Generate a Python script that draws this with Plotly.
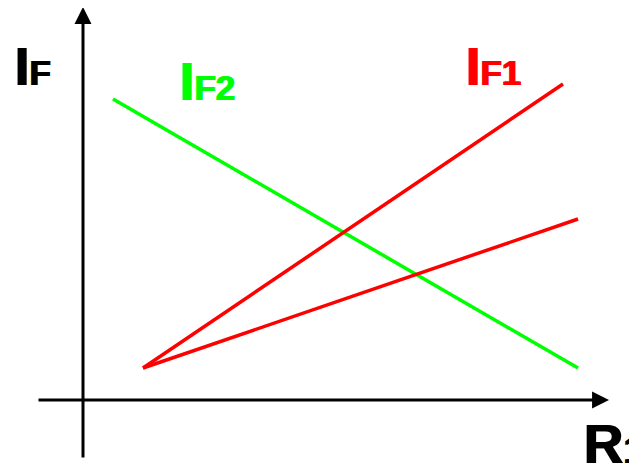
import plotly.graph_objects as go

# schematic: origin of the drawn axes is (0, 0)
green_x = [30, 495]
green_y = [301, 32]

red1_x = [60, 480]
red1_y = [32, 316]

red2_x = [60, 495]
red2_y = [32, 181]

GREEN = "#00ff00"
RED = "#ff0000"
FONT = "Liberation Sans, Arial, sans-serif"

fig = go.Figure()
fig.add_trace(go.Scatter(x=green_x, y=green_y, mode="lines", line=dict(color=GREEN, width=3.5)))
fig.add_trace(go.Scatter(x=red1_x, y=red1_y, mode="lines", line=dict(color=RED, width=3.5)))
fig.add_trace(go.Scatter(x=red2_x, y=red2_y, mode="lines", line=dict(color=RED, width=3.5)))

# axis arrows
arrows = [
    dict(x=0, y=393, ax=0, ay=-59),
    dict(x=526, y=0, ax=-46, ay=0),
]
for a in arrows:
    fig.add_annotation(
        x=a["x"], y=a["y"], ax=a["ax"], ay=a["ay"],
        xref="x", yref="y", axref="x", ayref="y",
        text="", showarrow=True, arrowhead=2, arrowsize=1.13,
        arrowwidth=3, arrowcolor="black",
    )

def label(main, sub, x, y, color, size=53, subsize=35):
    # heavy lettering: bold plus a thin shadow to thicken the strokes
    fig.add_annotation(
        x=x, y=y, xref="x", yref="y", xanchor="left", yanchor="middle",
        text=f"<b>{main}<span style='font-size:{subsize}px'>{sub}</span></b>",
        showarrow=False,
        font=dict(family=FONT, size=size, color=color, shadow=f"1.5px 0 0 {color}"),
    )

label("I", "F", -71, 334, "black")
label("I", "F2", 94, 319, GREEN)
label("I", "F1", 380, 334, RED)
label("R", "1", 498, -44, "black", size=55, subsize=36)

# the page body adds 8px around the figure
fig.update_layout(
    width=629, height=456,
    margin=dict(l=0, r=0, t=0, b=0),
    plot_bgcolor="white", paper_bgcolor="white",
    showlegend=False,
    xaxis=dict(range=[-75, 554], visible=False, fixedrange=True),
    yaxis=dict(range=[-64, 392], visible=False, fixedrange=True),
)

fig.write_html("out.html")
